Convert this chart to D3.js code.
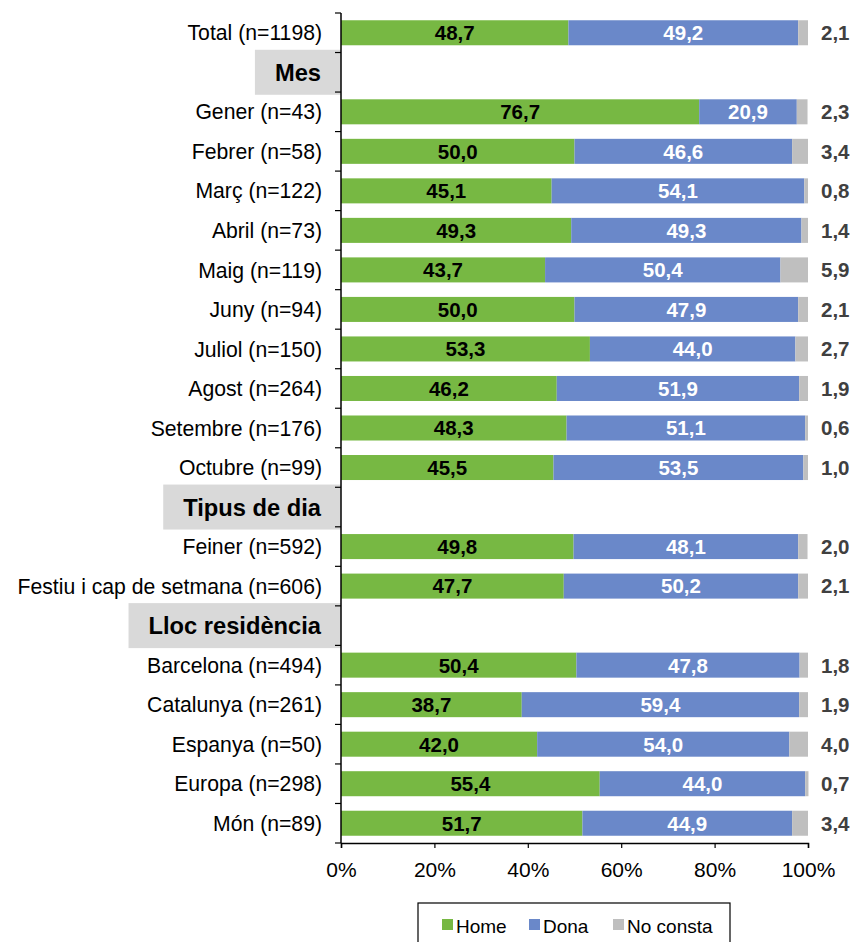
<!DOCTYPE html>
<html><head><meta charset="utf-8">
<script src="https://cdn.jsdelivr.net/npm/d3@7"></script>
<style>body{margin:0;background:#fff;} svg{display:block;font-family:"Liberation Sans",Arial,sans-serif;}</style>
</head><body>
<svg id="c" width="856" height="942"></svg>
<script>
const rows = ["Total (n=1198)","#Mes","Gener (n=43)","Febrer (n=58)","Març (n=122)","Abril (n=73)","Maig (n=119)","Juny (n=94)","Juliol (n=150)","Agost (n=264)","Setembre (n=176)","Octubre (n=99)","#Tipus de dia","Feiner (n=592)","Festiu i cap de setmana (n=606)","#Lloc residència","Barcelona (n=494)","Catalunya (n=261)","Espanya (n=50)","Europa (n=298)","Món (n=89)"];
const home = [48.7,null,76.7,50.0,45.1,49.3,43.7,50.0,53.3,46.2,48.3,45.5,null,49.8,47.7,null,50.4,38.7,42.0,55.4,51.7];
const dona = [49.2,null,20.9,46.6,54.1,49.3,50.4,47.9,44.0,51.9,51.1,53.5,null,48.1,50.2,null,47.8,59.4,54.0,44.0,44.9];
const noConsta = [2.1,null,2.3,3.4,0.8,1.4,5.9,2.1,2.7,1.9,0.6,1.0,null,2.0,2.1,null,1.8,1.9,4.0,0.7,3.4];
const seriesNames = ["Home","Dona","No consta"];
const xTicks = [0,20,40,60,80,100];

const colors = ["#77b843","#6a88c9","#bfbfbf"];
const svg = d3.select("#c");
const x = d3.scaleLinear().domain([0,100]).range([341,808]);
const y = d3.scaleBand().domain(d3.range(rows.length)).range([13,843]).paddingInner(0.367).paddingOuter(0.1835);
const fmt = v => v.toFixed(1).replace(".",",");

// bars
rows.forEach((r,i)=>{
  if (home[i]==null) return;
  const vals=[home[i],dona[i],noConsta[i]];
  let acc=0;
  vals.forEach((v,k)=>{
    svg.append("rect").attr("x",x(acc)).attr("y",y(i)).attr("width",x(acc+v)-x(acc)).attr("height",y.bandwidth()).attr("fill",colors[k]);
    const cy=y(i)+y.bandwidth()/2;
    if(k<2){
      svg.append("text").attr("x",(x(acc)+x(acc+v))/2).attr("y",cy).attr("dy","0.36em")
        .attr("text-anchor","middle").attr("font-weight","bold").attr("font-size",20.5)
        .attr("fill",k==0?"#000":"#fff").text(fmt(v));
    } else {
      svg.append("text").attr("x",821).attr("y",cy).attr("dy","0.36em")
        .attr("font-weight","bold").attr("font-size",20.5).attr("fill","#404040").text(fmt(v));
    }
    acc+=v;
  });
});

// y axis
svg.append("line").attr("x1",341).attr("x2",341).attr("y1",13).attr("y2",843).attr("stroke","#000").attr("stroke-width",1.5);
for(let i=0;i<=rows.length;i++){
  const yy=13+i*(830/rows.length);
  svg.append("line").attr("x1",335).attr("x2",341).attr("y1",yy).attr("y2",yy).attr("stroke","#000").attr("stroke-width",1.2);
}
// labels
rows.forEach((r,i)=>{
  const cy=y(i)+y.bandwidth()/2;
  if(r.startsWith("#")){
    const t=r.slice(1);
    const tx=svg.append("text").attr("x",321).attr("y",cy).attr("dy","0.36em").attr("text-anchor","end")
      .attr("font-weight","bold").attr("font-size",23.7).attr("fill","#000").text(t);
    const w=tx.node().getComputedTextLength();
    svg.insert("rect","text").attr("x",321-w-20).attr("y",cy-22.5).attr("width",341-(321-w-20)).attr("height",45).attr("fill","#d9d9d9");
  } else {
    svg.append("text").attr("x",322).attr("y",cy).attr("dy","0.36em").attr("text-anchor","end")
      .attr("font-size",21.2).attr("fill","#000").text(r);
  }
});

// x axis
const xa = svg.append("g").attr("transform","translate(0,843)")
  .call(d3.axisBottom(x).tickValues(xTicks).tickSize(5).tickFormat(d=>d+"%"));
xa.select(".domain").attr("stroke","#000").attr("stroke-width",1.5);
xa.selectAll(".tick line").attr("stroke","#000").attr("stroke-width",1.2);
xa.selectAll(".tick text").attr("font-size",21).attr("font-family","Liberation Sans, Arial, sans-serif").attr("fill","#000").attr("y",34).attr("dy",0);

// legend
const lg = svg.append("g");
lg.append("rect").attr("x",418).attr("y",903).attr("width",312).attr("height",50).attr("fill","#fff").attr("stroke","#000").attr("stroke-width",1.2);
const lx=[442,529,613];
seriesNames.forEach((s,k)=>{
  lg.append("rect").attr("x",lx[k]).attr("y",919).attr("width",11).attr("height",11).attr("fill",colors[k]);
  lg.append("text").attr("x",lx[k]+14).attr("y",933).attr("font-size",19).attr("fill","#000").text(s);
});
</script>
</body></html>
